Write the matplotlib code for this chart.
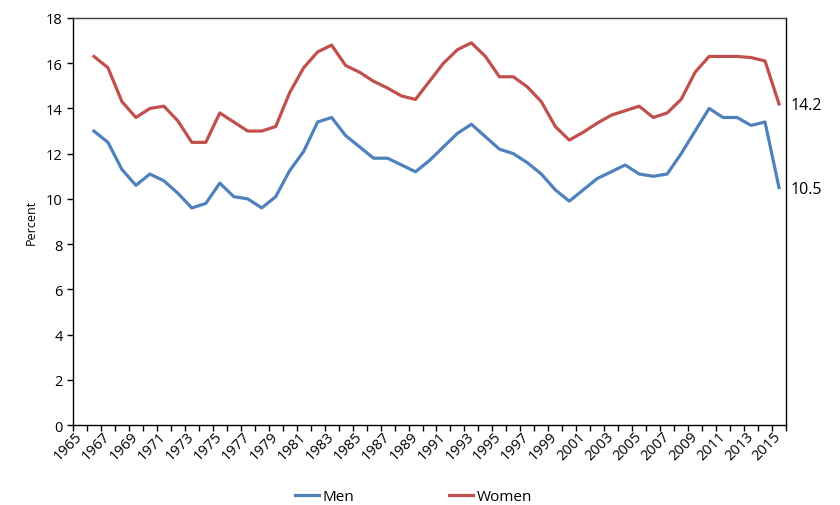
import numpy as np
from matplotlib import pyplot as plt
from matplotlib.ticker import MultipleLocator, FixedLocator

# Percent by year, 1966-2015
years = np.arange(1966, 2016)
men = [13.0, 12.5, 11.3, 10.6, 11.1, 10.8, 10.25, 9.6, 9.8, 10.7,
       10.1, 10.0, 9.6, 10.1, 11.25, 12.1, 13.4, 13.6, 12.8, 12.3,
       11.8, 11.8, 11.5, 11.2, 11.7, 12.3, 12.9, 13.3, 12.75, 12.2,
       12.0, 11.6, 11.1, 10.4, 9.9, 10.4, 10.9, 11.2, 11.5, 11.1,
       11.0, 11.1, 12.0, 13.0, 14.0, 13.6, 13.6, 13.25, 13.4, 10.5]
women = [16.3, 15.8, 14.3, 13.6, 14.0, 14.1, 13.45, 12.5, 12.5, 13.8,
         13.4, 13.0, 13.0, 13.2, 14.7, 15.8, 16.5, 16.8, 15.9, 15.6,
         15.2, 14.9, 14.55, 14.4, 15.2, 16.0, 16.6, 16.9, 16.3, 15.4,
         15.4, 14.95, 14.3, 13.2, 12.6, 12.95, 13.35, 13.7, 13.9, 14.1,
         13.6, 13.8, 14.4, 15.6, 16.3, 16.3, 16.3, 16.25, 16.1, 14.2]
label_years = np.arange(1965, 2016, 2)

plt.rcParams['font.family'] = ['Open Sans', 'DejaVu Sans']

fig = plt.figure(figsize=(8.4, 5.06), dpi=100)
ax = fig.add_axes([0.0869, 0.158, 0.8488, 0.8045])

ax.plot(years, men, color='#4F81BD', lw=2.3, label='Men')
ax.plot(years, women, color='#C0504D', lw=2.3, label='Women')

ax.set_xlim(1964.5, 2015.5)
ax.set_ylim(0, 18)
ax.yaxis.set_major_locator(MultipleLocator(2))
ax.tick_params(axis='y', labelsize=10.5, length=4, width=1)

# category axis: tick marks between years, labels on odd years
ax.xaxis.set_major_locator(FixedLocator(label_years))
ax.xaxis.set_minor_locator(FixedLocator(np.arange(1964.5, 2016, 1)))
ax.tick_params(axis='x', which='major', length=0, pad=6, labelsize=10.5)
ax.tick_params(axis='x', which='minor', length=4, width=1)
for lab in ax.get_xticklabels():
    lab.set_rotation(45)
    lab.set_ha('right')
    lab.set_va('center')
    lab.set_rotation_mode('anchor')

for s in ax.spines.values():
    s.set_color('black')
    s.set_linewidth(1)
ax.spines['top'].set_color('#404040')

ax.set_ylabel('Percent', fontsize=9, labelpad=6)

# end-point labels
ax.annotate('14.2', (years[-1], women[-1]), xytext=(8, -1),
            textcoords='offset points', va='center', ha='left',
            fontsize=11.5, annotation_clip=False)
ax.annotate('10.5', (years[-1], men[-1]), xytext=(8, -1),
            textcoords='offset points', va='center', ha='left',
            fontsize=11.5, annotation_clip=False)

fig.legend(loc='lower center', bbox_to_anchor=(0.492, -0.025), ncol=2,
           frameon=False, fontsize=11, handlelength=1.6,
           handletextpad=0.2, columnspacing=6.2)

plt.savefig('out.png', dpi=100)
